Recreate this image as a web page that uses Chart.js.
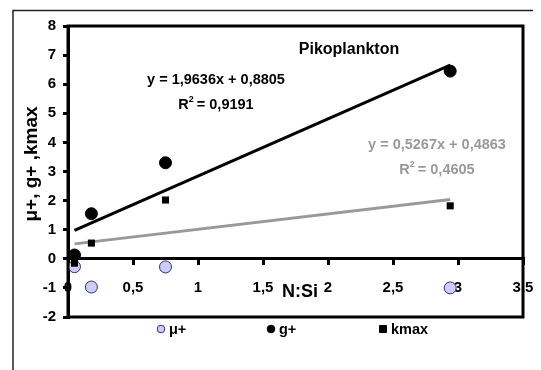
<!DOCTYPE html>
<html>
<head>
<meta charset="utf-8">
<script src="https://cdn.jsdelivr.net/npm/chart.js@4.4.1/dist/chart.umd.min.js"></script>
<style>
  html, body { margin: 0; padding: 0; background: #fff; }
  #wrap { width: 541px; height: 370px; }
</style>
</head>
<body>
<div id="wrap"><canvas id="ratioChart" width="541" height="370"></canvas></div>
<script>
// N:Si ratio of each sample and the measured rates
const nsiRatio = [0.05, 0.18, 0.75, 2.94];
const muPlus = [-0.27, -0.97, -0.28, -1.0];
const gPlus = [0.13, 1.55, 3.3, 6.45];
const kMax = [-0.15, 0.54, 2.02, 1.82];

// linear fits as printed on the plot
const gFit = { slope: 1.9636, intercept: 0.8805, r2: '0,9191' };
const kFit = { slope: 0.5267, intercept: 0.4863, r2: '0,4605' };

const seriesNames = ['μ+', 'g+', 'kmax'];
const xTicks = [0, 0.5, 1, 1.5, 2, 2.5, 3, 3.5];
const yTicks = [-2, -1, 0, 1, 2, 3, 4, 5, 6, 7, 8];

const FONT = 'Liberation Sans, Arial, sans-serif';
const comma = v => String(v).replace('.', ',');

const toPoints = ys => nsiRatio.map((x, i) => ({ x, y: ys[i] }));
const fitLine = f => {
    const x0 = Math.min(...nsiRatio), x1 = Math.max(...nsiRatio);
    return [{ x: x0, y: f.slope * x0 + f.intercept }, { x: x1, y: f.slope * x1 + f.intercept }];
};

// frame, annotations and legend are painted around the chart
const decorations = {
    id: 'decorations',
    beforeDraw(chart) {
        const ctx = chart.ctx;
        ctx.save();
        ctx.fillStyle = '#fff';
        ctx.fillRect(0, 0, chart.width, chart.height);
        ctx.strokeStyle = '#222';
        ctx.lineWidth = 1.5;
        ctx.beginPath();
        ctx.moveTo(13, chart.height);
        ctx.lineTo(13, 10.5);
        ctx.lineTo(533, 10.5);
        ctx.stroke();
        ctx.restore();
    },
    afterDraw(chart) {
        const ctx = chart.ctx;
        const a = chart.chartArea;
        ctx.save();

        ctx.strokeStyle = '#000';
        ctx.lineWidth = 3;
        ctx.strokeRect(a.left, a.top, a.right - a.left, a.bottom - a.top);

        ctx.textAlign = 'center';
        ctx.textBaseline = 'middle';
        ctx.fillStyle = '#000';
        ctx.font = `bold 16px ${FONT}`;
        ctx.fillText('Pikoplankton', 349, 50);

        const eq = (f, x, y, color) => {
            ctx.fillStyle = color;
            ctx.font = `bold 14.5px ${FONT}`;
            ctx.fillText(`y = ${comma(f.slope)}x + ${comma(f.intercept)}`, x, y);
            const w = ctx.measureText(`R  = ${f.r2}`).width;
            let left = x - w / 2;
            ctx.textAlign = 'left';
            ctx.fillText('R', left, y + 25);
            const rw = ctx.measureText('R').width;
            ctx.font = `bold 9px ${FONT}`;
            ctx.fillText('2', left + rw, y + 20);
            ctx.font = `bold 14.5px ${FONT}`;
            ctx.fillText(` = ${f.r2}`, left + rw + 4, y + 25);
            ctx.textAlign = 'center';
        };
        eq(gFit, 216, 80, '#000');
        eq(kFit, 437, 145, '#999');

        // axis titles
        ctx.fillStyle = '#000';
        ctx.font = `bold 18px ${FONT}`;
        ctx.fillText('N:Si', 300, 292);
        ctx.save();
        ctx.translate(32, 164);
        ctx.rotate(-Math.PI / 2);
        ctx.font = `bold 19px ${FONT}`;
        ctx.fillText('μ+, g+ ,kmax', 0, 0);
        ctx.restore();

        // legend
        const ly = 329;
        const marks = [161, 271, 383];
        ctx.lineWidth = 1;
        marks.forEach((mx, i) => {
            const ds = chart.data.datasets[i];
            ctx.fillStyle = ds.backgroundColor;
            ctx.strokeStyle = ds.borderColor;
            ctx.beginPath();
            if (ds.pointStyle === 'rect') {
                ctx.rect(mx - 3.5, ly - 3.5, 7, 7);
            } else {
                ctx.arc(mx, ly, 3.8, 0, Math.PI * 2);
            }
            ctx.fill();
            ctx.stroke();
            ctx.fillStyle = '#000';
            ctx.textAlign = 'left';
            ctx.font = `bold 14.5px ${FONT}`;
            ctx.fillText(seriesNames[i], mx + 8, ly + 1);
        });
        ctx.restore();
    }
};

new Chart(document.getElementById('ratioChart').getContext('2d'), {
    type: 'scatter',
    data: {
        datasets: [{
            label: seriesNames[0],
            data: toPoints(muPlus),
            pointStyle: 'circle',
            pointRadius: 6,
            backgroundColor: '#ccccff',
            borderColor: '#333366',
            borderWidth: 1,
            order: 3
        }, {
            label: seriesNames[1],
            data: toPoints(gPlus),
            pointStyle: 'circle',
            pointRadius: 6,
            backgroundColor: '#000',
            borderColor: '#000',
            borderWidth: 1,
            order: 1
        }, {
            label: seriesNames[2],
            data: toPoints(kMax),
            pointStyle: 'rect',
            pointRadius: 5,
            backgroundColor: '#000',
            borderColor: '#000',
            borderWidth: 0,
            order: 2
        }, {
            type: 'line',
            label: 'g+ fit',
            data: fitLine(gFit),
            borderColor: '#000',
            borderWidth: 3,
            pointRadius: 0,
            order: 4
        }, {
            type: 'line',
            label: 'kmax fit',
            data: fitLine(kFit),
            borderColor: '#999',
            borderWidth: 3,
            pointRadius: 0,
            order: 5
        }]
    },
    options: {
        responsive: false,
        animation: false,
        events: [],
        layout: { padding: { top: 26, right: 18, bottom: 53, left: 0 } },
        scales: {
            x: {
                type: 'linear',
                position: { y: 0 },
                min: 0,
                max: 3.5,
                afterBuildTicks: s => { s.ticks = xTicks.map(v => ({ value: v })); },
                afterFit: s => { s.paddingLeft = 0; s.paddingRight = 0; },
                ticks: {
                    color: '#000',
                    padding: 15,
                    maxRotation: 0,
                    font: { family: FONT, size: 15, weight: 'bold' },
                    callback: v => comma(v)
                },
                grid: { drawOnChartArea: false, color: '#000', lineWidth: 3, tickLength: 5 },
                border: { color: '#000', width: 3 }
            },
            y: {
                min: -2,
                max: 8,
                afterBuildTicks: s => { s.ticks = yTicks.map(v => ({ value: v })); },
                afterFit: s => { s.width = 68; s.paddingTop = 0; s.paddingBottom = 0; },
                ticks: {
                    color: '#000',
                    padding: 7,
                    font: { family: FONT, size: 15, weight: 'bold' }
                },
                grid: { drawOnChartArea: false, color: '#000', lineWidth: 3, tickLength: 5 },
                border: { color: '#000', width: 3 }
            }
        },
        plugins: {
            legend: { display: false },
            tooltip: { enabled: false }
        }
    },
    plugins: [decorations]
});
</script>
</body>
</html>
